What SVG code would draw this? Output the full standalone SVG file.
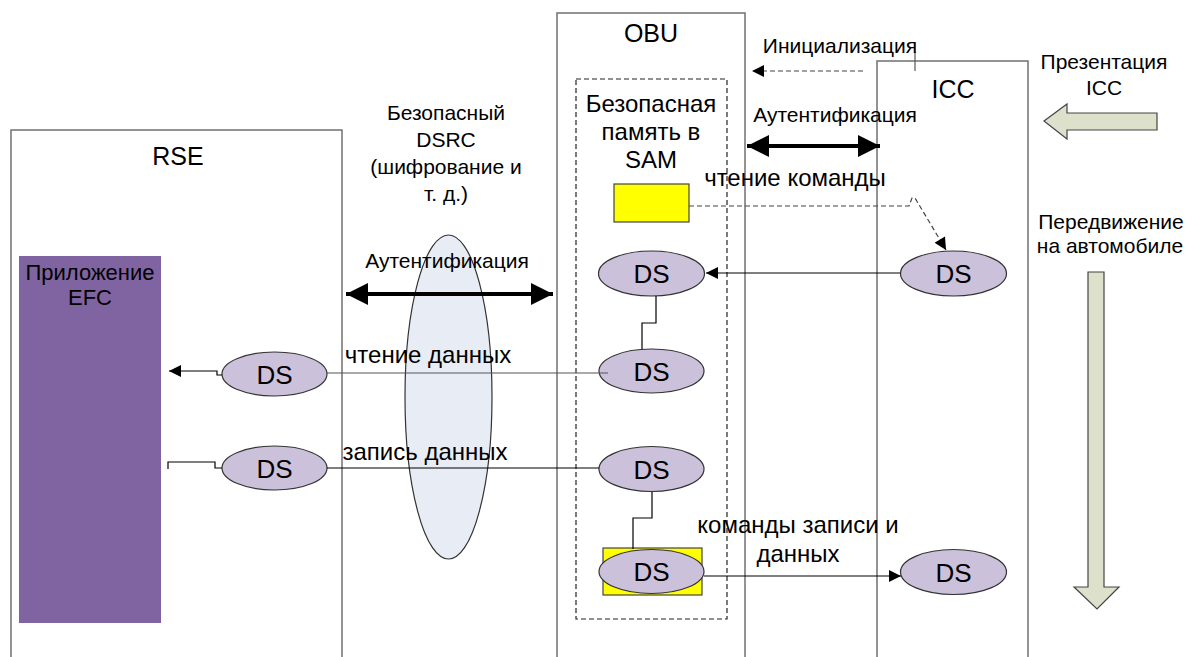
<svg xmlns="http://www.w3.org/2000/svg" width="1189" height="657" viewBox="0 0 1189 657">
  <style>
    text { font-family: "Liberation Sans", Arial, sans-serif; fill: #000; }
    .title { font-size: 25px; text-anchor: middle; }
    .lbl { font-size: 21px; text-anchor: middle; }
    .big { font-size: 24px; text-anchor: middle; }
    .ds-t { font-size: 26px; text-anchor: middle; }
    .frame { fill: #fff; stroke: #707070; stroke-width: 1.5; }
    .ds { fill: #ccc1da; stroke: #333; stroke-width: 1.2; }
    .yel { fill: #ffff00; stroke: #444; stroke-width: 1.2; }
    .thin { fill: none; stroke: #000; stroke-width: 1.2; }
    .grey { fill: none; stroke: #555; stroke-width: 1.2; }
    .dash { fill: none; stroke: #444; stroke-width: 1.2; stroke-dasharray: 5 3; }
    .thick { fill: none; stroke: #000; stroke-width: 4; }
    .move { fill: #dde0cb; stroke: #444; stroke-width: 1.2; }
  </style>
  <defs>
    <marker id="tri" viewBox="0 0 10 10" refX="10" refY="5" markerWidth="14" markerHeight="12" markerUnits="userSpaceOnUse" orient="auto">
      <path d="M0,0 L10,5 L0,10 Z" fill="#000"/>
    </marker>
    <marker id="big" viewBox="0 0 10 10" refX="10" refY="5" markerWidth="22" markerHeight="22" markerUnits="userSpaceOnUse" orient="auto-start-reverse">
      <path d="M0,0 L10,5 L0,10 Z" fill="#000"/>
    </marker>
  </defs>

  <!-- roadside equipment -->
  <g id="rse">
    <rect class="frame" x="11" y="130" width="331" height="560"/>
    <text class="title" x="178" y="165">RSE</text>
  </g>
  <g id="efc-app">
    <rect x="19" y="256" width="142" height="367" fill="#8064a2"/>
    <text class="lbl" x="90" y="280" style="font-size:22px">Приложение</text>
    <text class="lbl" x="90" y="305" style="font-size:22px">EFC</text>
  </g>

  <!-- on-board unit -->
  <g id="obu">
    <rect class="frame" x="557" y="13" width="188" height="680"/>
    <text class="title" x="651" y="42">OBU</text>
  </g>
  <g id="sam">
    <rect x="576" y="79" width="151" height="540" fill="none" stroke="#222" stroke-width="1.2" stroke-dasharray="5 3"/>
    <text class="big" x="651" y="112">Безопасная</text>
    <text class="big" x="651" y="140">память в</text>
    <text class="big" x="651" y="168">SAM</text>
  </g>

  <!-- integrated circuit card -->
  <g id="icc">
    <rect class="frame" x="877" y="61" width="151" height="630"/>
    <text class="title" x="953" y="98">ICC</text>
  </g>

  <!-- secure DSRC link -->
  <g id="dsrc">
    <ellipse cx="448.5" cy="397" rx="43.5" ry="162" fill="#e8edf5" stroke="#333" stroke-width="1.2"/>
    <text class="lbl" x="446" y="120">Безопасный</text>
    <text class="lbl" x="446" y="147">DSRC</text>
    <text class="lbl" x="446" y="174">(шифрование и</text>
    <text class="lbl" x="446" y="201">т. д.)</text>
  </g>

  <!-- data stores -->
  <g id="sam-cmd"><rect class="yel" x="614" y="184" width="75" height="38"/></g>
  <g id="obu-ds1"><ellipse class="ds" cx="651.5" cy="273.5" rx="53" ry="22.5"/><text class="ds-t" x="651.5" y="283">DS</text></g>
  <g id="icc-ds1"><ellipse class="ds" cx="953.5" cy="273.5" rx="53" ry="22.5"/><text class="ds-t" x="953.5" y="283">DS</text></g>
  <g id="obu-ds2"><ellipse class="ds" cx="651.5" cy="371" rx="52.5" ry="22"/><text class="ds-t" x="651.5" y="380.5">DS</text></g>
  <g id="obu-ds3"><ellipse class="ds" cx="651.5" cy="469" rx="52.5" ry="22.5"/><text class="ds-t" x="651.5" y="478.5">DS</text></g>
  <g id="obu-ds4">
    <rect class="yel" x="603" y="548" width="99" height="47"/>
    <ellipse class="ds" cx="651.5" cy="571.5" rx="52.5" ry="22"/>
    <text class="ds-t" x="651.5" y="581">DS</text>
  </g>
  <g id="icc-ds2"><ellipse class="ds" cx="953.5" cy="572" rx="53" ry="22.5"/><text class="ds-t" x="953.5" y="581.5">DS</text></g>
  <g id="rse-ds1"><ellipse class="ds" cx="274.5" cy="374" rx="52.5" ry="22"/><text class="ds-t" x="274.5" y="383.5">DS</text></g>
  <g id="rse-ds2"><ellipse class="ds" cx="274.5" cy="468" rx="52.5" ry="22"/><text class="ds-t" x="274.5" y="477.5">DS</text></g>

  <!-- vehicle movement and card presentation -->
  <g id="presentation">
    <polygon class="move" points="1044,121 1067,104 1067,113 1157,113 1157,130 1067,130 1067,139"/>
    <text class="lbl" x="1104" y="69">Презентация</text>
    <text class="lbl" x="1104" y="95">ICC</text>
  </g>
  <g id="movement">
    <polygon class="move" points="1088,272 1104,272 1104,587 1119,587 1097,609 1074,587 1088,587"/>
    <text class="lbl" x="1111" y="229">Передвижение</text>
    <text class="lbl" x="1110" y="253">на автомобиле</text>
  </g>

  <!-- connectors -->
  <g id="connectors">
    <path class="dash" d="M863,71 H752" marker-end="url(#tri)"/>
    <line x1="915" y1="52" x2="915" y2="71" stroke="#555" stroke-width="1.2"/>
    <path class="thick" d="M747,146 H880" marker-start="url(#big)" marker-end="url(#big)"/>
    <path class="thick" d="M346,294 H553" marker-start="url(#big)" marker-end="url(#big)"/>
    <path class="dash" d="M689,206 H909 L912,198 L915,198 L946,250" marker-end="url(#tri)"/>
    <path class="thin" d="M900,273 H706" marker-end="url(#tri)"/>
    <path class="thin" d="M656,296 V323 H642 V349"/>
    <path class="grey" d="M327,373 H608"/>
    <path class="thin" d="M222,375 H217 V371 H169" marker-end="url(#tri)"/>
    <path class="thin" d="M327,468 H599"/>
    <path class="thin" d="M222,468 H215 V462 H168 V469"/>
    <path class="thin" d="M652,492 V518 H633 V549"/>
    <path class="thin" d="M704,576 H901" marker-end="url(#tri)"/>
  </g>

  <!-- connector labels -->
  <g id="labels">
    <text class="lbl" x="840" y="53">Инициализация</text>
    <text class="lbl" x="835" y="122">Аутентификация</text>
    <text class="big" x="795" y="186">чтение команды</text>
    <text class="lbl" x="447" y="268">Аутентификация</text>
    <text class="big" x="428" y="363">чтение данных</text>
    <text class="big" x="425" y="460">запись данных</text>
    <text class="big" x="798" y="533">команды записи и</text>
    <text class="big" x="798" y="562">данных</text>
  </g>
</svg>
